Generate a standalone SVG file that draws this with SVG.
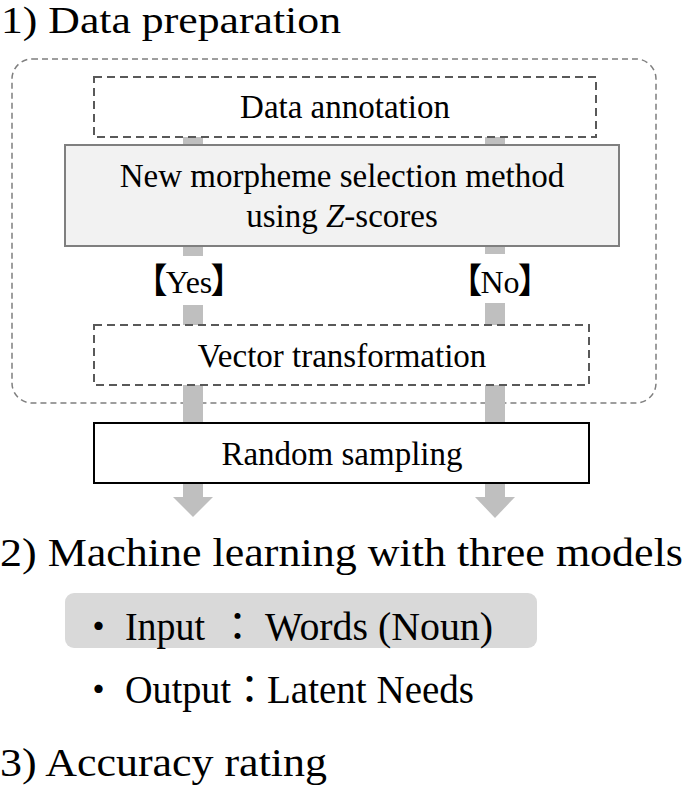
<svg xmlns="http://www.w3.org/2000/svg" width="685" height="787" viewBox="0 0 685 787">
<style>
.t{font-family:"Liberation Serif","Noto Sans CJK JP",serif;fill:#000}
.title{font-size:39px}
.box{font-size:33px;text-anchor:middle}
.lbl{font-size:32px;text-anchor:middle}
.br{font-size:35px}
.li{font-size:39px}
.dash{fill:#fff;stroke:#595959;stroke-width:2;stroke-dasharray:8 5}
.bar{fill:#bfbfbf}
</style>
<rect width="685" height="787" fill="#fff"/>
<g id="title1"><text class="t" style="font-size:37px" x="1" y="33" textLength="340" lengthAdjust="spacingAndGlyphs">1) Data preparation</text></g>
<g id="group-data-preparation"><rect x="12" y="59" width="644" height="344" rx="20" ry="20" fill="none" stroke="#7f7f7f" stroke-width="1.5" stroke-dasharray="6 4"/></g>
<g id="connectors">
<rect class="bar" x="183" y="137" width="20" height="119"/>
<rect class="bar" x="183" y="305" width="20" height="192"/>
<polygon class="bar" points="173,497 213,497 193,517"/>
<rect class="bar" x="485" y="137" width="20" height="117"/>
<rect class="bar" x="485" y="303" width="20" height="194"/>
<polygon class="bar" points="475,497 515,497 495,518"/>
</g>
<g id="data-annotation"><rect class="dash" x="94" y="77" width="502" height="60"/><text class="t box" x="345" y="118">Data annotation</text></g>
<g id="morpheme-selection"><rect x="65" y="145" width="554" height="101" fill="#f2f2f2" stroke="#7f7f7f" stroke-width="2"/><text class="t box" x="342" y="187">New morpheme selection method</text><text class="t box" x="342" y="227">using <tspan font-style="italic">Z</tspan>-scores</text></g>
<g id="label-yes"><text class="t lbl" x="189" y="293"><tspan class="br">【</tspan><tspan dx="-2">Yes</tspan><tspan class="br" dx="-2">】</tspan></text></g>
<g id="label-no"><text class="t lbl" x="500" y="293"><tspan class="br">【</tspan><tspan dx="-2">No</tspan><tspan class="br" dx="-2">】</tspan></text></g>
<g id="vector-transformation"><rect class="dash" x="94" y="325" width="495" height="60"/><text class="t box" x="342" y="367">Vector transformation</text></g>
<g id="random-sampling"><rect x="94" y="423" width="495" height="60" fill="#fff" stroke="#000" stroke-width="2"/><text class="t box" x="342" y="465">Random sampling</text></g>
<g id="title2"><text class="t title" x="0" y="566" textLength="683" lengthAdjust="spacingAndGlyphs">2) Machine learning with three models</text></g>
<g id="input-box"><rect x="65" y="593" width="472" height="55" rx="9" ry="9" fill="#d9d9d9"/>
<text class="t li" y="640"><tspan x="79">・</tspan><tspan x="125" textLength="80" lengthAdjust="spacingAndGlyphs">Input</tspan><tspan x="218">：</tspan><tspan x="265" textLength="228" lengthAdjust="spacingAndGlyphs">Words (Noun)</tspan></text></g>
<g id="output-line"><text class="t li" y="703"><tspan x="79">・</tspan><tspan x="125" textLength="106" lengthAdjust="spacingAndGlyphs">Output</tspan><tspan x="230">：</tspan><tspan x="267" textLength="207" lengthAdjust="spacingAndGlyphs">Latent Needs</tspan></text></g>
<g id="title3"><text class="t title" x="0" y="776" textLength="327" lengthAdjust="spacingAndGlyphs">3) Accuracy rating</text></g>
</svg>
